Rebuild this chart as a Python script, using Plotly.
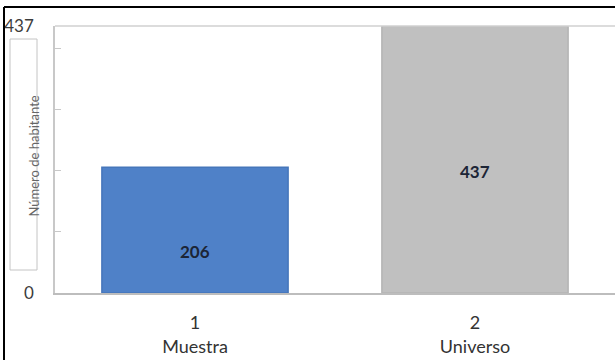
import plotly.graph_objects as go

# Data
categories = ["1<br>Muestra", "2<br>Universo"]
values = [206, 437]
bar_colors = ["#4f81c8", "#c0c0c0"]
bar_edges = ["#4676ba", "#b4b4b4"]
y_ticks = [0, 100, 200, 300, 400, 437]
y_ticktext = ["0", "", "", "", "", "437"]
y_title = "Número de habitante"
# relative height of each value label inside its bar
label_frac = [0.33, 0.455]

W, H = 615, 360
ML, MR, MT, MB = 55, 0, 26, 67
PW, PH = W - ML - MR, H - MT - MB


def px_x(p):
    return (p - ML) / PW


def px_y(p):
    return 1 - (p - MT) / PH


FONT = "Lato, 'Open Sans', sans-serif"

fig = go.Figure()
fig.add_trace(go.Bar(
    x=categories,
    y=values,
    width=0.665,
    marker=dict(color=bar_colors, line=dict(color=bar_edges, width=1.5)),
    hoverinfo="skip",
))

# value labels inside the bars
for c, v, f in zip(categories, values, label_frac):
    fig.add_annotation(
        x=c, y=v * f, xref="x", yref="y", text=f"<b>{v}</b>",
        showarrow=False, font=dict(family=FONT, size=17, color="#1c2536"),
    )

# boxed vertical axis title
fig.add_shape(type="rect", xref="paper", yref="paper",
              x0=px_x(10), x1=px_x(37), y0=px_y(270), y1=px_y(39),
              line=dict(color="#c4c4c4", width=1), fillcolor="white", layer="above")
fig.add_annotation(x=px_x(23.5), y=px_y(156), xref="paper", yref="paper",
                   text=y_title, textangle=-90, showarrow=False,
                   font=dict(family=FONT, size=13, color="#666666"))

# page frame lines (left and top)
fig.add_shape(type="line", xref="paper", yref="paper",
              x0=px_x(4), x1=px_x(4), y0=px_y(H + 5), y1=px_y(7),
              line=dict(color="black", width=2))
fig.add_shape(type="line", xref="paper", yref="paper",
              x0=px_x(4), x1=px_x(W + 5), y0=px_y(7), y1=px_y(7),
              line=dict(color="black", width=2))
# top border of the plot area
fig.add_shape(type="line", xref="paper", yref="paper",
              x0=0, x1=1, y0=1, y1=1,
              line=dict(color="#d0d0d0", width=1.5))

fig.update_layout(
    width=W, height=H,
    margin=dict(l=ML, r=MR, t=MT, b=MB),
    paper_bgcolor="white", plot_bgcolor="white",
    showlegend=False,
    bargap=0.335,
    xaxis=dict(
        type="category", range=[-0.5, 1.5],
        showline=True, linecolor="#bdbdbd", linewidth=1.5,
        ticks="", showgrid=False,
        tickfont=dict(family=FONT, size=18, color="#333333"),
        ticklabelstandoff=13,
    ),
    yaxis=dict(
        range=[0, 437], tickvals=y_ticks, ticktext=y_ticktext,
        showline=True, linecolor="#c8c8c8", linewidth=1.5,
        ticks="inside", ticklen=6, tickcolor="#c8c8c8",
        showgrid=False, zeroline=False,
        tickfont=dict(family=FONT, size=17, color="#3c3c3c"),
        ticklabelstandoff=16,
    ),
)

fig.write_html("out.html")
